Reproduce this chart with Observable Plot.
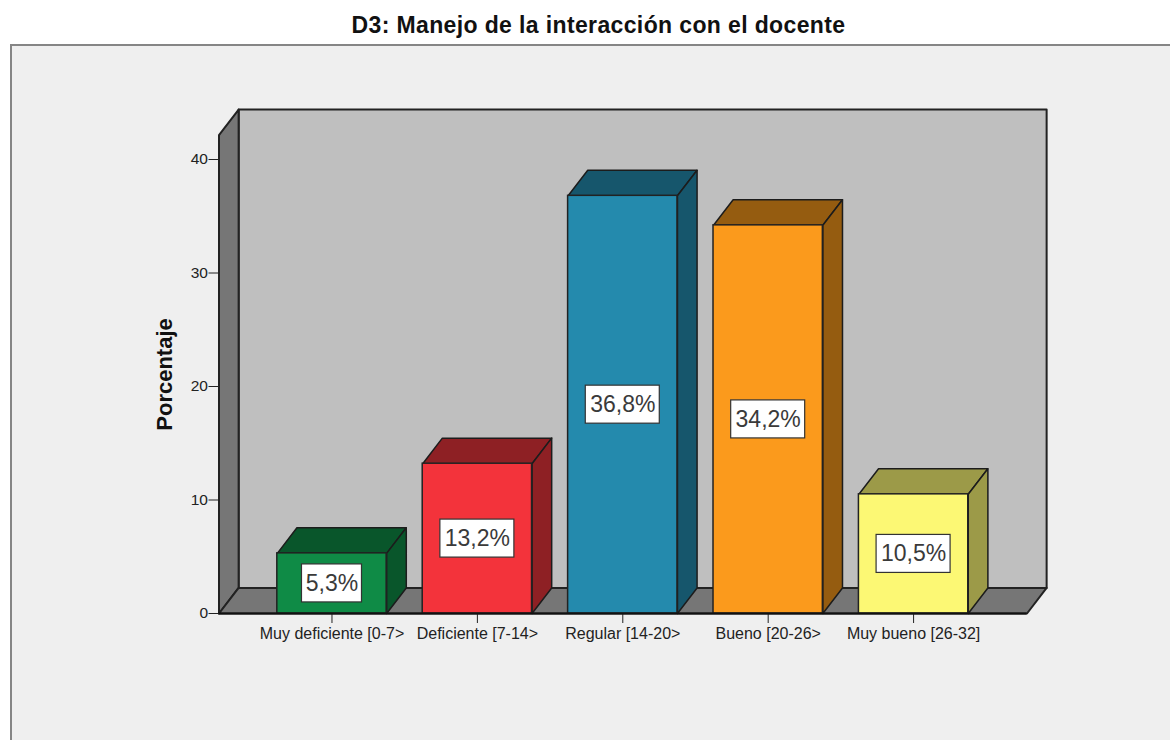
<!DOCTYPE html>
<html lang="es">
<head>
<meta charset="utf-8">
<script src="https://cdn.jsdelivr.net/npm/d3@7"></script>
<script src="https://cdn.jsdelivr.net/npm/@observablehq/plot@0.6"></script>
<style>
html,body{margin:0;padding:0;background:#fff;overflow:hidden;width:1170px;height:740px}
#title{position:absolute;left:0;top:10px;width:1197px;text-align:center;font:bold 23px "Liberation Sans",Arial,sans-serif;letter-spacing:.37px;color:#111;line-height:30px;white-space:nowrap}
#frame{position:absolute;left:10px;top:44px;width:1160px;height:696px;box-sizing:border-box;border-left:2px solid #858585;border-top:2px solid #858585;background:#efefef}
#frame svg{display:block;background:transparent}
</style>
</head>
<body>
<div id="title">D3: Manejo de la interacción con el docente</div>
<div id="frame"></div>
<script>
const categories = ["Muy deficiente [0-7>", "Deficiente [7-14>", "Regular [14-20>", "Bueno [20-26>", "Muy bueno [26-32]"];
const values = [5.3, 13.2, 36.8, 34.2, 10.5];
const valueLabels = ["5,3%", "13,2%", "36,8%", "34,2%", "10,5%"];
const frontColors = ["#0f8b46", "#f3333b", "#248aad", "#fb9a1c", "#fcf874"];
const shadeColors = ["#09562b", "#8e2024", "#16566c", "#955c10", "#9c9a48"];
const yTicks = [0, 10, 20, 30, 40];

// Box geometry in data units (category index on x, percent on y)
const xMin = -0.777, xMax = 4.78, yTop = 42.15;
const halfBar = 0.376, depthX = 0.135, depthY = 2.25;
const unitX = 145.4, unitY = 11.35;

const wallFaces = [
  {id: "side", fill: "#767676", pts: [[xMin, 0], [xMin, yTop], [xMin + depthX, yTop + depthY], [xMin + depthX, depthY]]},
  {id: "floor", fill: "#767676", pts: [[xMin, 0], [xMax, 0], [xMax + depthX, depthY], [xMin + depthX, depthY]]},
  {id: "back", fill: "#bfbfbf", pts: [[xMin + depthX, depthY], [xMin + depthX, yTop + depthY], [xMax + depthX, yTop + depthY], [xMax + depthX, depthY]]}
];
const wallPoints = wallFaces.flatMap(f => f.pts.map(([x, y]) => ({x, y, id: f.id, fill: f.fill})));

const barTable = categories.map((c, i) => ({
  i, c, v: values[i], label: valueLabels[i], front: frontColors[i], shade: shadeColors[i],
  x1: i - halfBar, x2: i + halfBar, mid: values[i] / 2,
  boxHalfW: (14 * valueLabels[i].length + 4) / 2 / unitX, boxHalfH: 19 / unitY
}));
const shadePoints = barTable.flatMap(b => [
  {id: b.i + "top", fill: b.shade, pts: [[b.x1, b.v], [b.x2, b.v], [b.x2 + depthX, b.v + depthY], [b.x1 + depthX, b.v + depthY]]},
  {id: b.i + "side", fill: b.shade, pts: [[b.x2, 0], [b.x2, b.v], [b.x2 + depthX, b.v + depthY], [b.x2 + depthX, depthY]]}
]).flatMap(f => f.pts.map(([x, y]) => ({x, y, id: f.id, fill: f.fill})));

const font = '"Liberation Sans",Arial,sans-serif';
const chart = Plot.plot({
  width: 1158, height: 694,
  marginLeft: 206.5, marginRight: 143.5, marginTop: 113, marginBottom: 127,
  style: {background: "transparent", fontFamily: font, fontSize: "15px", color: "#222"},
  x: {type: "linear", domain: [xMin, xMax]},
  y: {type: "linear", domain: [0, 40]},
  color: {type: "identity"},
  marks: [
    Plot.line(wallPoints.filter(d => d.id === "back"), {x: "x", y: "y", z: "id", fill: "fill", stroke: "#222", strokeWidth: 2, curve: "linear-closed"}),
    Plot.line(wallPoints.filter(d => d.id !== "back"), {x: "x", y: "y", z: "id", fill: "fill", stroke: "#222", strokeWidth: 2, curve: "linear-closed"}),
    Plot.line(shadePoints, {x: "x", y: "y", z: "id", fill: "fill", stroke: "#1c1c1c", strokeWidth: 1.5, strokeLinejoin: "round", curve: "linear-closed"}),
    Plot.rect(barTable, {x1: "x1", x2: "x2", y1: () => 0, y2: "v", fill: "front", stroke: "#222", strokeWidth: 1.5}),
    Plot.rect(barTable, {x1: d => d.i - d.boxHalfW, x2: d => d.i + d.boxHalfW, y1: d => d.mid - d.boxHalfH, y2: d => d.mid + d.boxHalfH, fill: "#fff", stroke: "#333", strokeWidth: 1.2}),
    Plot.text(barTable, {x: "i", y: "mid", text: "label", fontSize: 23, fill: "#3a3a3a", textAnchor: "middle", lineAnchor: "middle"}),
    Plot.axisY({ticks: yTicks, tickSize: 10, tickPadding: 1, label: null, fontSize: 15.5, stroke: "#222"}),
    Plot.axisX({ticks: [0, 1, 2, 3, 4], tickFormat: i => categories[i], tickSize: 10, tickPadding: 4, label: null, fontSize: 16, stroke: "#222"}),
    Plot.text(["Porcentaje"], {x: () => -1.149, y: () => 21.06, text: d => d, rotate: -90, fontWeight: "bold", fontSize: 22, fill: "#111"}),
    Plot.ruleY([0], {x1: xMin, x2: xMax, stroke: "#111", strokeWidth: 2})
  ]
});
document.getElementById("frame").appendChild(chart);
</script>
</body>
</html>
